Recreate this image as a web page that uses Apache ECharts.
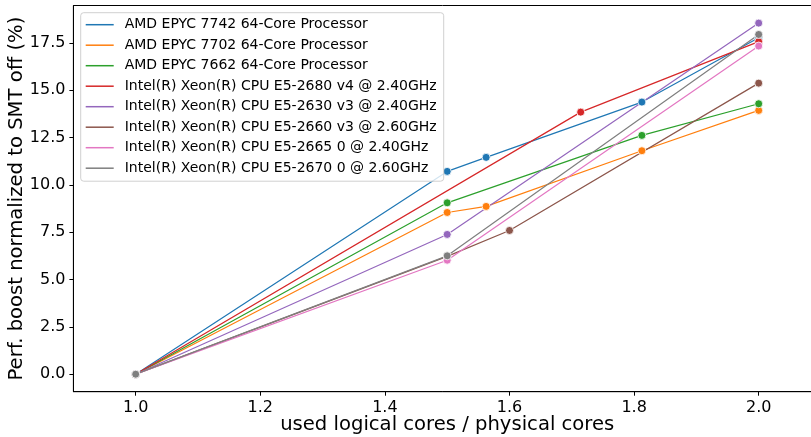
<!DOCTYPE html>
<html>
<head>
<meta charset="utf-8">
<script src="https://cdn.jsdelivr.net/npm/echarts@6/dist/echarts.min.js"></script>
<style>
  html, body { margin: 0; padding: 0; background: #fff; }
  #chart { width: 811px; height: 437px; }
</style>
</head>
<body>
<div id="chart"></div>
<script>
// data
const names = [
  'AMD EPYC 7742 64-Core Processor',
  'AMD EPYC 7702 64-Core Processor',
  'AMD EPYC 7662 64-Core Processor',
  'Intel(R) Xeon(R) CPU E5-2680 v4 @ 2.40GHz',
  'Intel(R) Xeon(R) CPU E5-2630 v3 @ 2.40GHz',
  'Intel(R) Xeon(R) CPU E5-2660 v3 @ 2.60GHz',
  'Intel(R) Xeon(R) CPU E5-2665 0 @ 2.40GHz',
  'Intel(R) Xeon(R) CPU E5-2670 0 @ 2.60GHz'
]
const colors = ['#1f77b4', '#ff7f0e', '#2ca02c', '#d62728', '#9467bd', '#8c564b', '#e377c2', '#7f7f7f']

const xEpyc = [1.0, 1.5, 1.5625, 1.8125, 2.0]
const xEpyc7662 = [1.0, 1.5, 1.8125, 2.0]
const xE52680 = [1.0, 1.7143, 2.0]
const xE52660 = [1.0, 1.5, 1.6, 2.0]
const xHalf = [1.0, 1.5, 2.0]

const epyc7742 = [0, 10.71, 11.45, 14.37, 17.77]
const epyc7702 = [0, 8.54, 8.86, 11.80, 13.93]
const epyc7662 = [0, 9.05, 12.61, 14.28]
const e52680v4 = [0, 13.84, 17.56]
const e52630v3 = [0, 7.38, 18.54]
const e52660v3 = [0, 6.22, 7.59, 15.37]
const e52665 = [0, 6.02, 17.33]
const e52670 = [0, 6.25, 17.94]

const xTicks = [1.0, 1.2, 1.4, 1.6, 1.8, 2.0]
const yTicks = [0, 2.5, 5.0, 7.5, 10.0, 12.5, 15.0, 17.5]

const xs = [xEpyc, xEpyc, xEpyc7662, xE52680, xHalf, xE52660, xHalf, xHalf]
const ys = [epyc7742, epyc7702, epyc7662, e52680v4, e52630v3, e52660v3, e52665, e52670]

const font = 'DejaVu Sans'

const chart = echarts.init(document.getElementById('chart'))

chart.setOption({
  animation: false,
  backgroundColor: '#fff',
  grid: {
    left: 73.4,
    right: -10,
    top: 5.5,
    bottom: 45.3,
    outerBoundsMode: 'none',
    containLabel: false,
    show: true,
    borderColor: '#000',
    borderWidth: 1,
    backgroundColor: 'transparent'
  },
  legend: {
    orient: 'vertical',
    left: 80.7,
    top: 12.7,
    padding: [5, 7, 6, 5],
    itemWidth: 28,
    itemHeight: 14,
    itemGap: 6.5,
    icon: 'path://M0,0L28,0L28,1.5L0,1.5Z',
    itemStyle: { borderWidth: 0 },
    backgroundColor: 'rgba(255,255,255,0.8)',
    borderColor: '#d0d0d0',
    borderWidth: 1,
    borderRadius: 3,
    textStyle: {
      fontFamily: font,
      fontSize: 14,
      lineHeight: 14,
      color: '#000',
      padding: [0, 0, 0, 6]
    },
    data: names
  },
  xAxis: {
    type: 'value',
    min: 0.9,
    max: 2.1,
    name: 'used logical cores / physical cores',
    nameLocation: 'middle',
    nameGap: 23.5,
    nameMoveOverlap: false,
    nameTextStyle: { fontFamily: font, fontSize: 19.6, color: '#000', verticalAlign: 'top' },
    splitLine: { show: false },
    axisLine: { show: true, onZero: false, lineStyle: { color: '#000', width: 1 } },
    axisTick: { show: true, length: 4, lineStyle: { color: '#000' }, customValues: xTicks },
    axisLabel: {
      fontFamily: font, fontSize: 16, color: '#000', margin: 8,
      customValues: xTicks,
      formatter: v => v.toFixed(1)
    }
  },
  yAxis: {
    type: 'value',
    min: -0.925,
    max: 19.47,
    name: 'Perf. boost normalized to SMT off (%)',
    nameLocation: 'middle',
    nameGap: 46,
    nameMoveOverlap: false,
    nameTextStyle: { fontFamily: font, fontSize: 19.6, color: '#000' },
    splitLine: { show: false },
    axisLine: { show: true, onZero: false, lineStyle: { color: '#000', width: 1 } },
    axisTick: { show: true, length: 4, lineStyle: { color: '#000' }, customValues: yTicks },
    axisLabel: {
      fontFamily: font, fontSize: 16, color: '#000', margin: 8,
      customValues: yTicks,
      formatter: v => v.toFixed(1)
    }
  },
  series: names.map((name, i) => ({
    name,
    type: 'line',
    data: xs[i].map((x, j) => [x, ys[i][j]]),
    symbol: 'circle',
    symbolSize: 8,
    color: colors[i],
    lineStyle: { color: colors[i], width: 1.2 },
    itemStyle: { color: colors[i], borderColor: '#fff', borderWidth: 0.8 },
    emphasis: { disabled: true }
  }))
})
</script>
</body>
</html>
